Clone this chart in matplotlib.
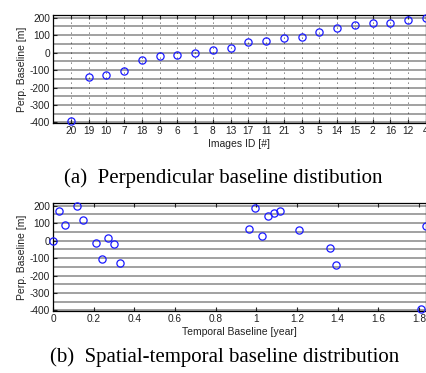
import numpy as np
import matplotlib
matplotlib.use('Agg')
import matplotlib.pyplot as plt

# image ids sorted by perpendicular baseline
image_ids = [20, 19, 10, 7, 18, 9, 6, 1, 8, 13, 17, 11, 21, 3, 5, 14, 15, 2, 16, 12, 4]
perp_baseline = [-390, -140, -130, -105, -45, -20, -15, 0, 15, 28, 58, 64,
                 83, 89, 117, 142, 158, 167, 171, 187, 195]
temporal_baseline = [1.81, 1.391, 0.330, 0.241, 1.361, 0.300, 0.211, 0.0, 0.270, 1.028, 1.208, 0.965,
                     1.835, 0.061, 0.149, 1.057, 1.087, 0.031, 1.116, 0.995, 0.118]

yticks = [-400, -300, -200, -100, 0, 100, 200]
xticks_t = [0, 0.2, 0.4, 0.6, 0.8, 1, 1.2, 1.4, 1.6, 1.8]

plt.rcParams['font.family'] = ['Liberation Sans', 'DejaVu Sans']

fig = plt.figure(figsize=(4.27, 3.73), dpi=100)
ax1 = fig.add_axes([53/427, 1-123/373, 373/427, 108/373])
ax2 = fig.add_axes([53/427, 1-311/373, 373/427, 108/373])


def style(ax):
    for y in range(-400, 201, 50):
        ax.axhline(y, color='#9a9a9a', lw=1.3, zorder=0)
    ax.set_ylim(-403, 215)
    ax.set_yticks(yticks)
    ax.set_yticklabels([str(v) for v in yticks])
    ax.tick_params(direction='in', length=3, width=0.8, labelsize=7.3,
                   top=True, right=False, pad=2, colors='#222222')
    for s in ax.spines.values():
        s.set_linewidth(0.9)
    ax.set_ylabel('Perp. Baseline [m]', fontsize=7.5, labelpad=2, color='#222222')


# (a) perpendicular baseline per image
pos = np.arange(1, len(image_ids) + 1)
style(ax1)
for p in pos:
    ax1.axvline(p, color='black', lw=0.6, ls=(0, (1, 5)), zorder=1)
ax1.plot(pos, perp_baseline, 'o', mfc='none', mec='#1a1aff', ms=5.2, mew=0.9, clip_on=False, zorder=3)
ax1.set_xlim(0, len(image_ids))
ax1.set_xticks(pos)
ax1.set_xticklabels([str(i) for i in image_ids])
ax1.set_xlabel('Images ID [#]', fontsize=7.5, labelpad=2, color='#222222')

# (b) spatial-temporal baseline
style(ax2)
ax2.plot(temporal_baseline, perp_baseline, 'o', mfc='none', mec='#1a1aff', ms=5.2, mew=0.9, clip_on=False, zorder=3)
ax2.set_xlim(0, 1.835)
ax2.set_xticks(xticks_t)
ax2.set_xticklabels(['0', '0.2', '0.4', '0.6', '0.8', '1', '1.2', '1.4', '1.6', '1.8'])
ax2.set_xlabel('Temporal Baseline [year]', fontsize=7.5, labelpad=2, color='#222222')

fig.text(223/427, 1-178/373, '(a)  Perpendicular baseline distibution', ha='center', va='center',
         fontsize=15, family='Liberation Serif')
fig.text(225/427, 1-357/373, '(b)  Spatial-temporal baseline distribution', ha='center', va='center',
         fontsize=15, family='Liberation Serif')

fig.savefig('out.png', dpi=100)
